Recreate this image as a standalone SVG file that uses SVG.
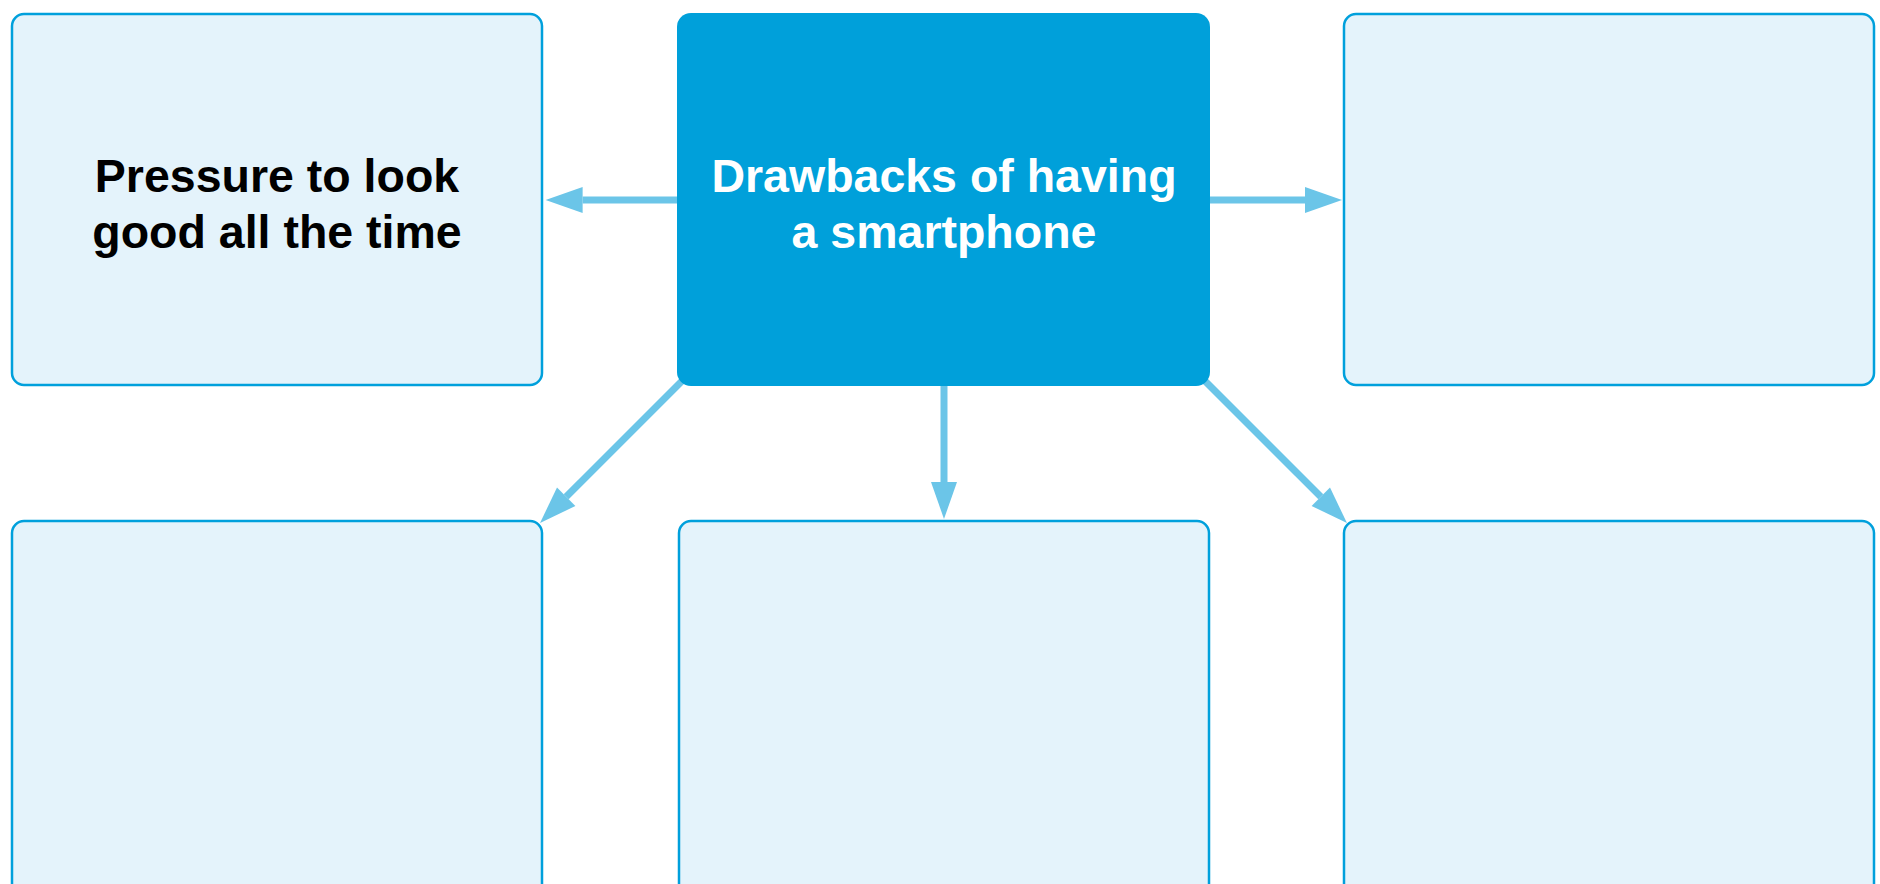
<svg xmlns="http://www.w3.org/2000/svg" width="1880" height="884" viewBox="0 0 1880 884">
  <style>
    .box { fill: #e4f3fb; stroke: #00a0dc; stroke-width: 2.5; }
    .main { fill: #00a0da; }
    .conn { stroke: #6bc5e8; stroke-width: 7; fill: none; marker-end: url(#ah); }
    .lbl { font-family: "Liberation Sans", Arial, sans-serif; font-weight: bold; font-size: 46.5px; text-anchor: middle; }
  </style>
  <defs>
    <marker id="ah" markerUnits="userSpaceOnUse" markerWidth="38" markerHeight="28" refX="0" refY="13.5" orient="auto" overflow="visible">
      <path d="M0,0.5 L37,13.5 L0,26.5 Z" fill="#6bc5e8"/>
    </marker>
  </defs>
  <rect width="1880" height="884" fill="#ffffff"/>
  <g id="connectors">
    <line class="conn" x1="700" y1="200" x2="582.6" y2="200"/>
    <line class="conn" x1="1190" y1="200" x2="1305" y2="200"/>
    <line class="conn" x1="944" y1="370" x2="944" y2="482"/>
    <line class="conn" x1="697" y1="366" x2="566.2" y2="496.8"/>
    <line class="conn" x1="1190" y1="366" x2="1320.8" y2="496.8"/>
  </g>
  <g id="node-center">
    <rect class="main" x="677" y="13" width="533" height="373" rx="14"/>
    <text class="lbl" fill="#ffffff" x="944" y="192">Drawbacks of having</text>
    <text class="lbl" fill="#ffffff" x="944" y="248">a smartphone</text>
  </g>
  <g id="node-top-left">
    <rect class="box" x="12" y="14" width="530" height="371" rx="12"/>
    <text class="lbl" fill="#000000" x="277" y="192">Pressure to look</text>
    <text class="lbl" fill="#000000" x="277" y="248">good all the time</text>
  </g>
  <g id="node-top-right">
    <rect class="box" x="1344" y="14" width="530" height="371" rx="12"/>
  </g>
  <g id="node-bottom-left">
    <rect class="box" x="12" y="521" width="530" height="390" rx="12"/>
  </g>
  <g id="node-bottom-center">
    <rect class="box" x="679" y="521" width="530" height="390" rx="12"/>
  </g>
  <g id="node-bottom-right">
    <rect class="box" x="1344" y="521" width="530" height="390" rx="12"/>
  </g>
</svg>
